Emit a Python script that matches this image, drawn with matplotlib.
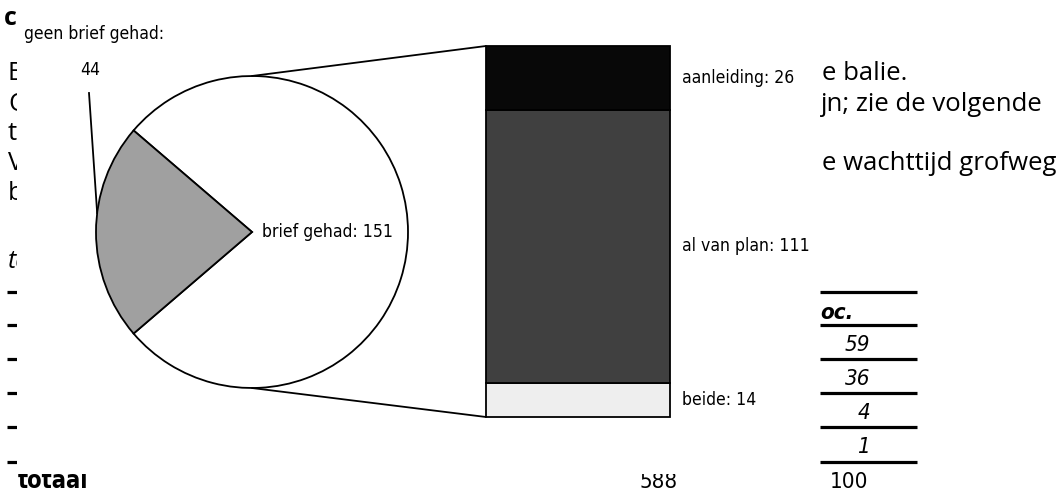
import matplotlib
matplotlib.use('Agg')
import numpy as np
import matplotlib.pyplot as plt
from matplotlib.patches import Rectangle, ConnectionPatch
from matplotlib import font_manager as fm

# ---------------- data ----------------
pie_labels = ['brief gehad', 'geen brief gehad']
pie_values = [151, 44]
pie_colors = ['white', '#a0a0a0']

bar_labels = ['beide', 'al van plan', 'aanleiding']
bar_values = [14, 111, 26]
bar_colors = ['#eeeeee', '#404040', '#080808']

table_header = 'oc.'
table_pct = ['59', '36', '4', '1']
total_label = 'totaal'
total_n = '588'
total_pct = '100'

left_words = ['Bij', 'Op', 'te', 'Voor', 'bij']
right_words = ['e balie.', 'jn; zie de volgende', 'e wachttijd grofweg']

# ---------------- fonts ----------------
names = {f.name for f in fm.fontManager.ttflist}
cond = [f for f in fm.fontManager.ttflist if f.name == 'DejaVu Sans' and 'ondensed' in str(f.stretch) + f.fname]
if 'Liberation Sans Narrow' in names:
    NARROW = dict(family=['Liberation Sans Narrow'])
    LS, TS = 15, 17
elif cond:
    NARROW = dict(family=['DejaVu Sans'], fontstretch='condensed')
    LS, TS = 12.6, 16
else:
    NARROW = dict(family=['Roboto', 'DejaVu Sans'])
    LS, TS = 12.6, 16
BODY = ['Open Sans', 'DejaVu Sans']

# ---------------- layout ----------------
W, H = 1060, 492
fig = plt.figure(figsize=(W / 100, H / 100), dpi=100)
base = fig.add_axes([0, 0, 1, 1])
base.set_xlim(0, W)
base.set_ylim(H, 0)
base.axis('off')

# document text (partly hidden behind the chart)
base.text(4, 25, 'c', family=BODY, fontweight='bold', fontsize=18, va='baseline', zorder=1)
for word, yb in zip(left_words, [80, 111, 140, 170, 200]):
    base.text(8, yb, word, family=BODY, fontsize=18.5, va='baseline', ha='left', zorder=1)
for word, (xl, yb) in zip(right_words, [(822, 80), (820, 111), (822, 170)]):
    base.text(xl, yb, word, family=BODY, fontsize=18.5, va='baseline', ha='left', zorder=1)
base.text(8, 268, 'tabel', family=BODY, style='italic', fontsize=18, va='baseline', zorder=1)

rule_y = [292, 325, 359, 393, 427, 462]
for y in rule_y:
    base.plot([7, 17], [y, y], color='black', lw=2.3, solid_capstyle='butt', zorder=1)
    base.plot([820, 917], [y, y], color='black', lw=2.3, solid_capstyle='butt', zorder=1)
base.text(820, 319, table_header, fontweight='bold', style='italic',
          fontsize=TS, va='baseline', zorder=1, **NARROW)
for s, yb in zip(table_pct, [351, 385, 419, 453]):
    base.text(870, yb, s, style='italic', fontsize=TS, va='baseline',
              ha='right', zorder=1, **NARROW)
base.text(18, 488, total_label, fontweight='bold', fontsize=TS + 1, va='baseline', zorder=1, **NARROW)
base.text(678, 488, total_n, fontsize=TS, va='baseline', ha='right', zorder=1, **NARROW)
base.text(868, 488, total_pct, fontsize=TS, va='baseline', ha='right', zorder=1, **NARROW)

# white chart area covering the document
base.add_patch(Rectangle((17, 0), 803, 474, facecolor='white', edgecolor='none', zorder=2))

# ---------------- pie ----------------
cx, cy, r = 252, 232, 156
pie_ax = fig.add_axes([(cx - r) / W, (H - cy - r) / H, 2 * r / W, 2 * r / H])
tot = sum(pie_values)
start = 180 - pie_values[1] / tot * 180 - pie_values[0] / tot * 360
wedges, _ = pie_ax.pie(pie_values, colors=pie_colors, startangle=start,
                       wedgeprops=dict(edgecolor='black', linewidth=1.3, clip_on=False))
pie_ax.set_xlim(-1, 1)
pie_ax.set_ylim(-1, 1)
pie_ax.axis('off')
pie_ax.text(0.065, 0, f'{pie_labels[0]}: {pie_values[0]}', fontsize=LS,
            va='center', ha='left', **NARROW)

# label for the small slice with leader line
base.text(94, 34, f'{pie_labels[1]}:', fontsize=LS, ha='center', va='center', zorder=10, **NARROW)
base.text(90, 70, f'{pie_values[1]}', fontsize=LS, ha='center', va='center', zorder=10, **NARROW)
ang = np.deg2rad(173)
base.plot([89, cx + r * np.cos(ang)], [93, cy - r * np.sin(ang)], color='black', lw=1.3, zorder=10)

# ---------------- bar ----------------
bx0, by0, bx1, by1 = 486, 46, 670, 417
bar_ax = fig.add_axes([bx0 / W, (H - by1) / H, (bx1 - bx0) / W, (by1 - by0) / H])
btot = sum(bar_values)
bottom = 0
for lab, v, c in zip(bar_labels, bar_values, bar_colors):
    bar_ax.bar(0, v, bottom=bottom, width=1, color=c, edgecolor='black', linewidth=1.3,
               clip_on=False)
    bar_ax.text(0.5 + 12 / (bx1 - bx0), bottom + v / 2, f'{lab}: {v}',
                fontsize=LS, va='center', ha='left', **NARROW)
    bottom += v
bar_ax.set_xlim(-0.5, 0.5)
bar_ax.set_ylim(0, btot)
bar_ax.axis('off')

# connection lines
for ya, yb in [(1, btot), (-1, 0)]:
    con = ConnectionPatch(xyA=(0, ya), coordsA=pie_ax.transData,
                          xyB=(-0.5, yb), coordsB=bar_ax.transData,
                          color='black', linewidth=1.3)
    fig.add_artist(con)

fig.savefig('out.png', dpi=100)
